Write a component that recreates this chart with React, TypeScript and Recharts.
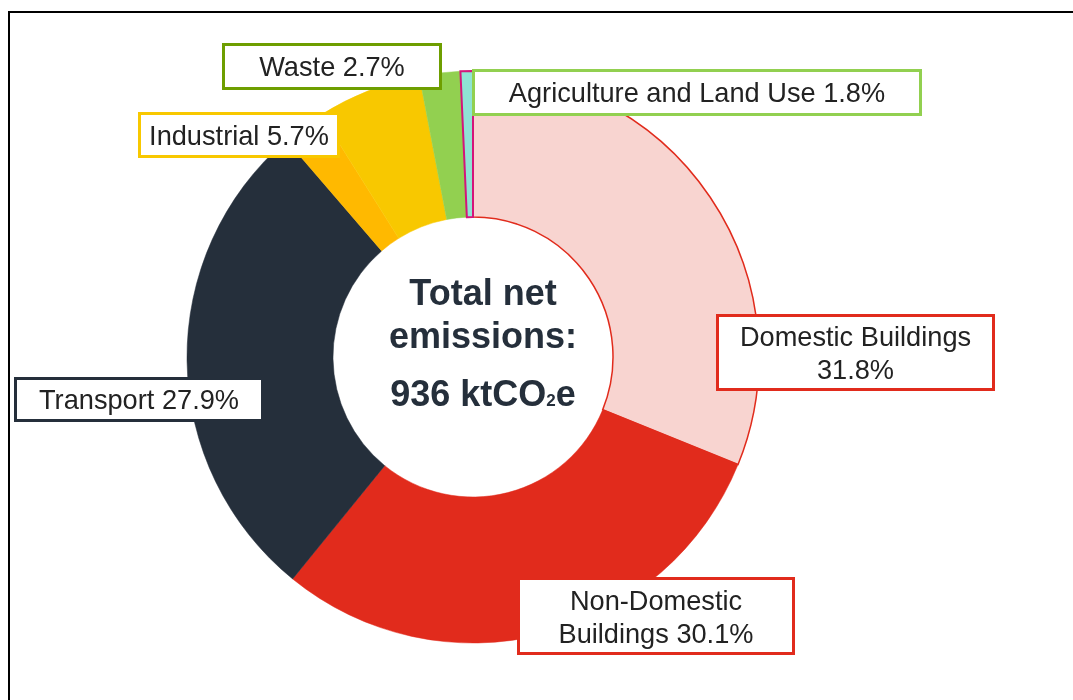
import React from 'react';
import { PieChart, Pie, Cell } from 'recharts';

// Sectors as drawn clockwise from 12 o'clock, with angular shares
const sectorNames = [
  'Domestic Buildings',
  'Non-Domestic Buildings',
  'Transport',
  'Industrial (part)',
  'Industrial',
  'Waste',
  'Agriculture and Land Use',
];
const sectorShares = [31.1, 29.7, 27.8, 2.4, 5.9, 2.3, 0.7];
const sectorColors = ['#F8D4D0', '#E12B1C', '#252F3B', '#FFB900', '#F8C800', '#92D050', '#8FE3D4'];
const sectorStrokes = ['#E12B1C', '#E12B1C', '#252F3B', '#FFB900', '#F8C800', '#92D050', '#D4157A'];

// Label texts (reported shares of total net emissions)
const labelNames = ['Domestic Buildings', 'Non-Domestic Buildings', 'Transport', 'Industrial', 'Waste', 'Agriculture and Land Use'];
const labelPercents = [31.8, 30.1, 27.9, 5.7, 2.7, 1.8];
const totalNet = 936;
const centerLines = ['Total net', 'emissions:'];

// Which label belongs to which drawn sector (-1 = none)
const sectorToLabel = [0, 1, 2, -1, 3, 4, 5];

// Layout of label boxes (chart coordinates)
const labelLayout: Record<string, { x: number; y: number; w: number; h: number; color: string; lines: string[]; baselines: number[] }> = {
  'Domestic Buildings': { x: 708, y: 306, w: 279, h: 77, color: '#E12B1C', lines: ['Domestic Buildings', '{p}'], baselines: [338, 371] },
  'Non-Domestic Buildings': { x: 509, y: 569, w: 278, h: 78, color: '#E12B1C', lines: ['Non-Domestic', 'Buildings {p}'], baselines: [602, 635] },
  Transport: { x: 6, y: 369, w: 250, h: 45, color: '#252F3B', lines: ['Transport {p}'], baselines: [401] },
  Industrial: { x: 130, y: 104, w: 202, h: 46, color: '#F8C800', lines: ['Industrial {p}'], baselines: [137] },
  Waste: { x: 214, y: 35, w: 220, h: 47, color: '#6E9E00', lines: ['Waste {p}'], baselines: [68] },
  'Agriculture and Land Use': { x: 464, y: 61, w: 450, h: 47, color: '#92D050', lines: ['Agriculture and Land Use {p}'], baselines: [94] },
};

const data = sectorNames.map((name, i) => ({ name, value: sectorShares[i] }));

const FONT = '"Liberation Sans", Arial, sans-serif';

const renderLabel = (props: any) => {
  const li = sectorToLabel[props.index];
  if (li === undefined || li < 0) return null;
  const name = labelNames[li];
  const cfg = labelLayout[name];
  const pct = `${labelPercents[li].toFixed(1)}%`;
  const cx = cfg.x + cfg.w / 2;
  return (
    <g key={`lbl-${li}`}>
      <rect x={cfg.x + 1.5} y={cfg.y + 1.5} width={cfg.w - 3} height={cfg.h - 3} fill="#fff" stroke={cfg.color} strokeWidth={3} />
      {cfg.lines.map((ln, k) => (
        <text key={k} x={cx} y={cfg.baselines[k]} textAnchor="middle" fontFamily={FONT} fontSize={27.2} fill="#222">
          {ln.replace('{p}', pct)}
        </text>
      ))}
    </g>
  );
};

export default function App() {
  return (
    <div style={{ position: 'fixed', left: 8, top: 8, width: 1065, height: 692, overflow: 'hidden' }}>
      <div
        style={{
          position: 'absolute',
          left: 0,
          top: 3,
          width: 1100,
          height: 720,
          borderTop: '2.5px solid #000',
          borderLeft: '2.5px solid #000',
          boxSizing: 'border-box',
        }}
      />
      <div style={{ position: 'absolute', left: 0, top: 0 }}>
        <PieChart width={1065} height={692} margin={{ top: 0, right: 0, bottom: 0, left: 0 }}>
          <Pie
            data={data}
            dataKey="value"
            nameKey="name"
            cx={465}
            cy={349}
            innerRadius={140}
            outerRadius={286}
            startAngle={90}
            endAngle={-270}
            isAnimationActive={false}
            label={renderLabel}
            labelLine={false}
          >
            {data.map((d, i) => (
              <Cell key={d.name + i} fill={sectorColors[i]} stroke={sectorStrokes[i]} strokeWidth={i === 0 ? 1.5 : i === 6 ? 2 : 0.5} />
            ))}
          </Pie>
          <text x={475} y={297} textAnchor="middle" fontFamily={FONT} fontWeight="bold" fontSize={36} fill="#252F3B">
            {centerLines[0]}
          </text>
          <text x={475} y={340} textAnchor="middle" fontFamily={FONT} fontWeight="bold" fontSize={36} fill="#252F3B">
            {centerLines[1]}
          </text>
          <text x={475} y={398} textAnchor="middle" fontFamily={FONT} fontWeight="bold" fontSize={36} fill="#252F3B">
            {`${totalNet} ktCO`}
            <tspan fontSize={17}>2</tspan>
            <tspan>e</tspan>
          </text>
        </PieChart>
      </div>
    </div>
  );
}
